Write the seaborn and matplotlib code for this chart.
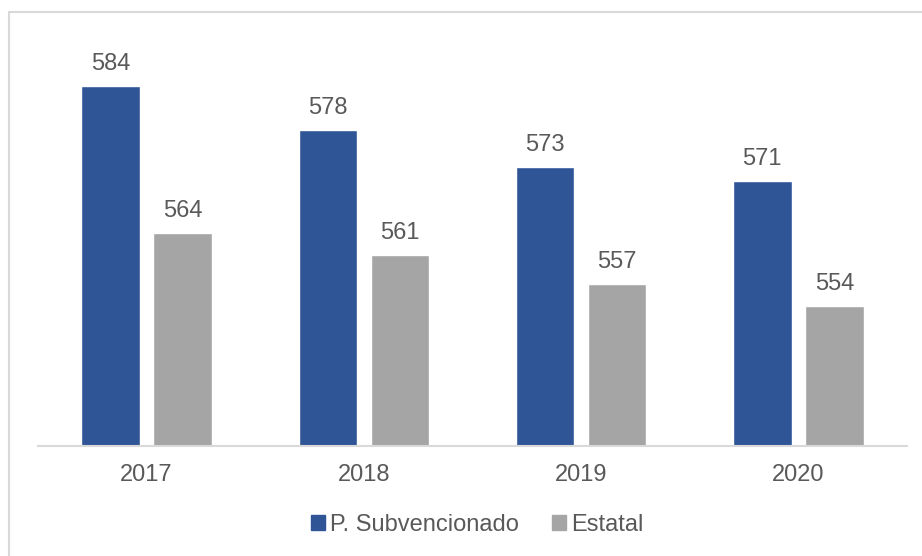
import matplotlib
matplotlib.use("Agg")
import matplotlib.pyplot as plt
from matplotlib.patches import Rectangle
import seaborn as sns
import pandas as pd

years = ["2017", "2018", "2019", "2020"]
subvencionado = [584, 578, 573, 571]
estatal = [564, 561, 557, 554]
series_names = ["P. Subvencionado", "Estatal"]
colors = ["#2F5597", "#A5A5A5"]

df = pd.DataFrame({
    "year": years * 2,
    "value": subvencionado + estatal,
    "series": [series_names[0]] * len(years) + [series_names[1]] * len(years),
})

sns.set_theme(style="white")
plt.rcParams["font.family"] = ["Liberation Sans", "DejaVu Sans"]
text_color = "#595959"

fig = plt.figure(figsize=(9.22, 5.56), dpi=100)
ax = fig.add_axes([38 / 922, (556 - 446) / 556, 869 / 922, 0.7271])

sns.barplot(data=df, x="year", y="value", hue="series", palette=colors,
            width=0.664, gap=0.19, ax=ax, legend=False, saturation=1)

ax.set_ylim(535, 590)
ax.set_xlim(-0.5, 3.5)

for container in ax.containers:
    ax.bar_label(container, fmt="%d", padding=8, fontsize=17, color=text_color)

ax.set_xlabel("")
ax.set_ylabel("")
ax.set_yticks([])
ax.tick_params(axis="x", length=0, pad=13, labelsize=17, labelcolor=text_color)
for side in ["top", "right", "left"]:
    ax.spines[side].set_visible(False)
ax.spines["bottom"].set_color("#D9D9D9")
ax.spines["bottom"].set_linewidth(1.5)

# legend
handles = [Rectangle((0, 0), 1, 1, color=c) for c in colors]
fig.legend(handles, series_names, loc="center", bbox_to_anchor=(477 / 922, 1 - 525 / 556),
           ncol=2, frameon=False, fontsize=17, labelcolor=text_color,
           handlelength=0.6, handleheight=0.6, handletextpad=0.2, columnspacing=1.4)

# outer chart border
fig.patches.append(Rectangle((9 / 922, -0.1), 1.2, 1 - 12 / 556 + 0.1,
                             transform=fig.transFigure, fill=False,
                             edgecolor="#D9D9D9", linewidth=1.5))

fig.savefig("out.png", dpi=100)
